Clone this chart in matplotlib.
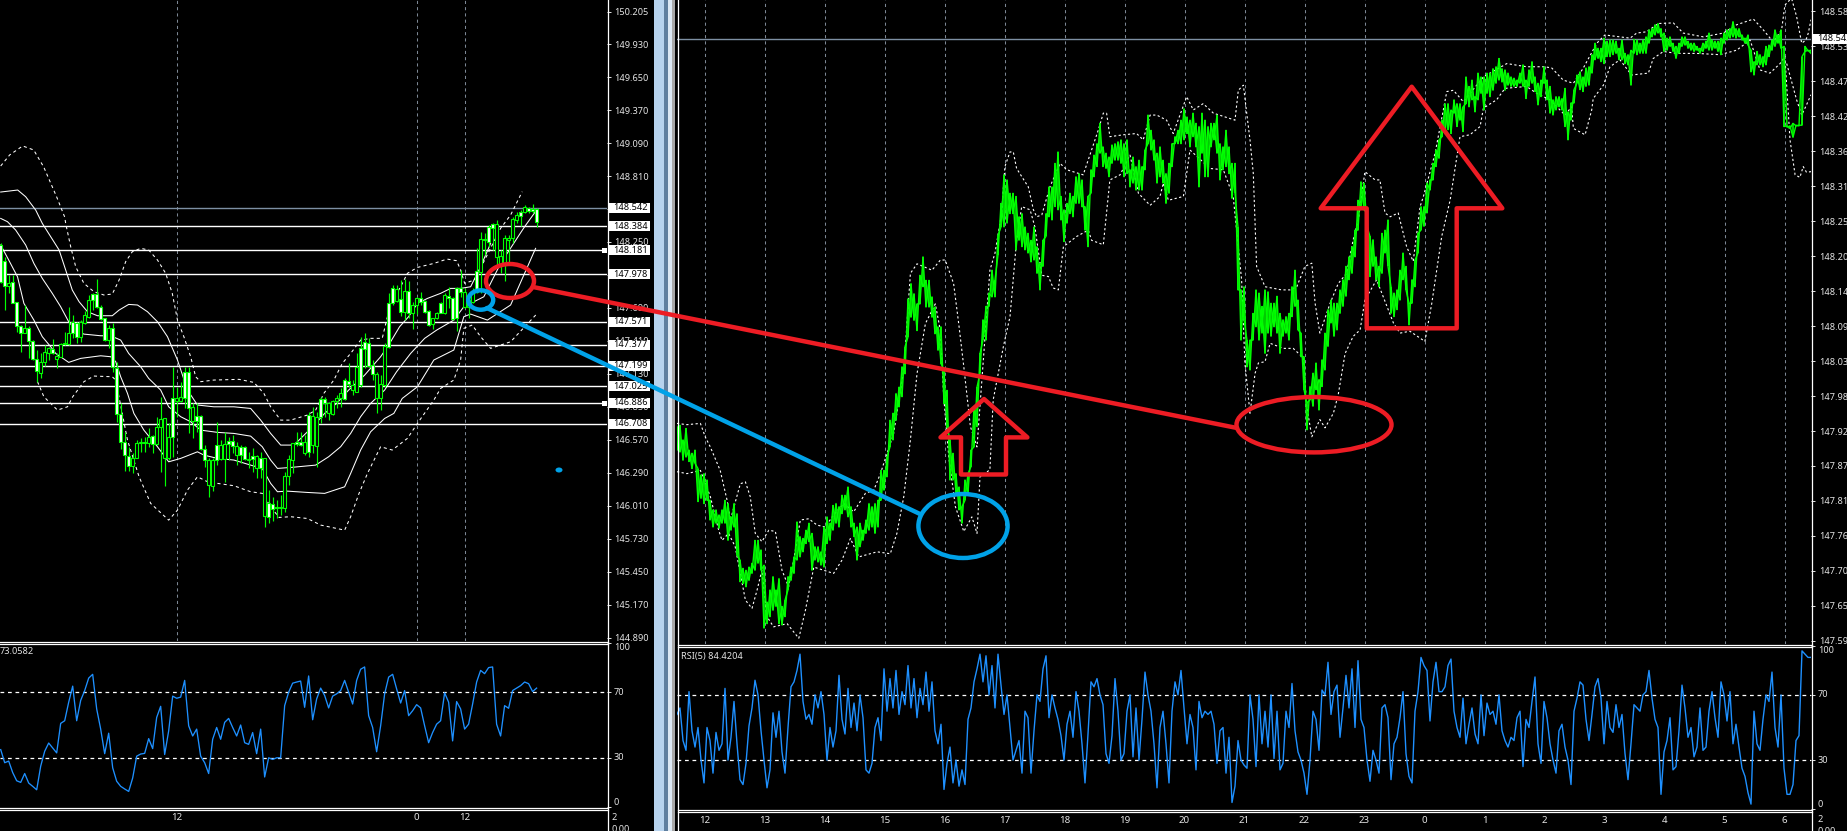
import numpy as np
import matplotlib
matplotlib.use("Agg")
import matplotlib.pyplot as plt
from matplotlib.patches import Ellipse, Polygon, Rectangle
from matplotlib.transforms import blended_transform_factory as blend

plt.rcParams['font.family'] = ['Noto Sans', 'DejaVu Sans']
W, H = 1847, 831

# ---------- left chart (candles, thousandths above 145.000)
L_OPEN_TOP = [3224,3088,2899,2907,2737,2536,2517,2517,2412,2253,2234,2313,2350,2344,2284,2381,2389,2474,2567,2565,2567,2627,2757,2808,2805,2700,2601,2517,2517,2177,1786,1554,1435,1413,1540,1549,1549,1597,1603,1676,1744,1752,1591,1922,1922,1931,2143,2143,1846,1775,1775,1489,1399,1399,1523,1523,1532,1563,1563,1518,1512,1512,1404,1433,1433,1413,1413,1031,1022,1003,1003,1263,1404,1540,1549,1554,1554,1781,1775,1767,1914,1914,1880,1902,1922,1965,2078,2072,2035,2191,2347,2403,2395,2205,2126,2041,2367,2734,2856,2850,2763,2836,2836,2715,2771,2771,2749,2664,2601,2644,2734,2797,2794,2771,2862,2856,2822,2757,2834,3003,3278,3278,3380,3400,3400,3131,3281,3281,3445,3479,3507,3544,3541,3527,3530]
L_OPEN_BOT = [2913,2879,2879,2734,2536,2480,2480,2412,2253,2154,2140,2234,2310,2304,2253,2276,2384,2381,2474,2446,2446,2559,2610,2754,2695,2596,2417,2417,2185,1786,1554,1438,1351,1351,1413,1540,1540,1540,1535,1535,1676,1413,1413,1591,1902,1900,1928,1837,1733,1733,1489,1399,1187,1181,1399,1404,1404,1532,1518,1441,1441,1404,1399,1404,1328,1328,923,918,983,988,994,994,1263,1399,1535,1526,1455,1469,1526,1520,1767,1880,1795,1789,1902,1922,1917,2041,1993,1979,2035,2338,2197,2126,1922,1922,2035,2361,2734,2751,2652,2655,2650,2644,2715,2743,2658,2545,2550,2601,2650,2644,2771,2596,2601,2822,2700,2700,2743,2828,2998,3267,3252,3371,3125,3060,3068,3267,3281,3436,3473,3507,3516,3516,3422]
L_HIGH = [3238,3125,2969,2969,2743,2545,2715,2536,2417,2333,2304,2375,2361,2426,2304,2395,2488,2700,2630,2573,2587,2667,2800,2814,2933,2715,2601,2545,2559,2234,1880,1639,1512,1455,1568,1583,1597,1668,1611,1761,1931,1752,1710,2191,2021,2064,2191,2191,1880,1880,1781,1526,1413,1413,1718,1568,1639,1597,1611,1554,1526,1518,1469,1498,1441,1469,1413,1144,1087,1059,1102,1300,1441,1540,1634,1639,1611,1809,1851,1809,1931,1936,1894,1908,1951,2007,2092,2219,2078,2304,2446,2480,2432,2248,2149,2120,2389,2814,2884,2884,2927,2933,2921,2743,2785,2828,2757,2672,2607,2658,2743,2814,2865,2785,2870,3012,2856,2785,2856,3196,3337,3323,3394,3414,3436,3182,3309,3309,3465,3507,3521,3564,3549,3572,3535]
L_LOW = [2899,2672,2814,2729,2488,2313,2474,2262,2248,2064,2092,2197,2248,2299,2183,2276,2375,2375,2432,2395,2398,2550,2601,2672,2692,2587,2412,2347,2149,1724,1489,1308,1308,1285,1413,1469,1469,1512,1455,1526,1300,1178,1399,1427,1767,1894,1837,1625,1583,1639,1484,1342,1087,1136,1356,1399,1215,1399,1455,1356,1370,1399,1328,1300,1243,1243,833,861,881,903,932,960,1187,1285,1518,1518,1441,1427,1455,1342,1716,1761,1738,1781,1837,1851,1908,2021,1951,1979,2021,2177,2191,2078,1795,1823,2021,2347,2715,2743,2621,2587,2601,2511,2638,2715,2644,2539,2511,2593,2644,2638,2686,2587,2497,2785,2686,2607,2729,2814,2814,3139,3210,3182,3054,2984,2921,3068,3238,3408,3385,3493,3499,3493,3380]
L_BEAR = "WWBWWWBWWWBBBWBBBBWWBBBWWWWBWWWWWBBBWBWBBBBWBBWWBWWWBBWBBWWBWWBWBWBWWWBBBBWWBWBBWWBBBBWWBBWWWWBBBWWBWBWBBWWWBBWBWWWWBBBWBWWWBBBBBBWBW"[:135]

# Bollinger lines: bar number and level (thousandths above 145.000)
LU2_BAR = [0,2.25,5.5,8.25,10.75,14,16,16.25,17.5,18.75,20.8,23.3,25.8,27.9,29.6,31.25,32.9,35,37,39.2,41.25,42.9,44.2,45.8,47.5,48.75,50,53.3,59.6,63.3,65.8,67.5,70,72.5,76.7,78.75,80.8,83.3,85.4,87.5,90,92.5,95.4,97.5,100,101.7,104.2,108.3,111.6,114,115,116,118.4,120.8,125,127.5,130.4]
LU2_VAL = [3895,3989,4065,4031,3887,3632,3462,3408,3210,3040,2899,2828,2800,2808,2927,3083,3167,3196,3182,3097,2984,2814,2587,2446,2276,2106,2064,2078,2084,2058,1965,1851,1738,1738,1781,1823,1965,2078,2219,2304,2417,2432,2432,2729,2870,2984,3034,3068,3105,3091,3012,2899,2927,3083,3366,3479,3677]
LU1_BAR = [0,4.25,6.25,8.75,10.4,12.5,14.6,16.25,17.9,19.6,21.7,24.2,27.9,29.6,32,34.2,36.7,39.2,41.7,44.2,46.7,49.2,53.3,58.3,62.5,65,67.5,70,72.5,73.75,78.4,81,84,87,91,95,97,99.75,102,104.2,106.7,110,112.5,115,117.5,120,122.5]
LU1_VAL = [3674,3691,3634,3521,3408,3295,3182,3012,2842,2743,2658,2624,2624,2672,2720,2715,2658,2573,2446,2248,1993,1866,1851,1851,1837,1738,1625,1526,1526,1540,1696,1795,1880,1993,2120,2276,2375,2531,2616,2729,2771,2814,2856,2856,2870,3040,3238]
LM_BAR = [0,1.7,3.75,6.25,8.3,10.4,12.9,15,17,18.75,20.8,25,27.5,30,32,35,37,40,42,45,47.5,50,54.2,58.3,62.5,65.4,67.5,69.2,72.5,78.75,82,85,87.5,90,92.5,96,99,102.5,106,109,113.3,115.8,120.8,125,131,134]
LM_VAL = [3450,3422,3351,3224,3068,2941,2814,2700,2573,2502,2468,2454,2454,2417,2304,2191,2092,1993,1851,1767,1724,1653,1634,1625,1602,1512,1399,1328,1336,1356,1427,1512,1625,1767,1880,1993,2149,2304,2432,2502,2587,2700,2785,3068,3380,3521]
LL1_BAR = [0,2,4.2,5.8,8.3,10.4,12.5,13.75,17,20,25,27.5,28.75,30,31.7,33.3,35.8,39.2,42,45,49.2,50.8,54.2,58.3,62.5,65.4,67.5,69.2,71.7,76.7,81,86,87.5,90,92.5,96,98.3,100.4,104.2,108.3,113.3,115.8,117.5,121.7,127.5,133.75]
LL1_VAL = [3224,3097,2955,2729,2587,2446,2361,2304,2228,2262,2284,2276,2234,2106,1965,1795,1653,1512,1384,1413,1469,1441,1413,1399,1356,1328,1201,1130,1135,1124,1116,1172,1285,1484,1639,1752,1795,1922,2021,2248,2333,2616,2638,2587,2715,3196]
LL2_BAR = [9.2,10.8,14.2,16.7,18,20.8,23.3,27.9,28.75,31.7,34.6,37.5,42,44.2,46.7,49.2,51.7,54.2,58.3,62.5,65.4,67.5,69.6,72.5,76.7,80,86,87.5,89.6,91.7,95,97.9,101.7,104.2,108.3,110,113.3,115,115.8,117.9,120,122.5,127.5,134]
LL2_VAL = [2064,1936,1823,1851,1936,2064,2112,2106,2078,1569,1257,1031,889,974,1144,1257,1215,1201,1181,1130,1116,1003,912,918,903,847,804,918,1116,1285,1512,1484,1583,1710,1908,2007,2078,2248,2517,2545,2446,2347,2403,2638]

L_RSI = [35,27,28,21,16,15,20.4,14.6,12.6,10.5,24.9,34,39,36,33,51,52.6,63.9,73.7,52.6,65,71,78.6,80.9,59.8,47.5,32.5,45,23.9,15.7,12.6,11,9.5,17.7,31,32.3,32.7,41.7,35.6,54.6,61.4,32,46.4,67.6,66.3,67,77.2,49.5,43.3,47.5,31,27,20.4,41.3,48.5,41.3,51.6,54,48.5,43.3,50,39.2,38.2,45.4,32.5,47.5,18.3,30,29,30,30,61.8,70,75.5,76.2,76.8,60.8,79.9,53.2,65.9,72.5,68,60.4,67.6,69,71,77.2,70,62.8,77.2,84,85.4,55.7,48.5,33.7,49.5,69,79.2,80.9,72,63.4,71,55.7,58.7,62.4,60.4,49.5,39.2,45.4,50.5,52.6,69.6,63.9,40.3,64.3,59.8,47.5,50.5,62.8,76.2,83.3,81.3,85,85.4,50.5,43.3,61.8,60.2,71,72.5,74,76.2,75.2,70.4,72.5]

L_TICKS = [150.205,149.93,149.65,149.37,149.09,148.81,148.53,148.25,147.97,147.69,147.41,147.13,146.85,146.57,146.29,146.01,145.73,145.45,145.17,144.89]
L_LEVELS = [148.384,148.181,147.978,147.571,147.377,147.199,147.025,146.886,146.708]
LAST_PRICE = 148.542
L_TIME_BARS = [44,104,116]
L_TIME_LABELS = ["12","0","12"]

# ---------- right chart (bar highs and lows, thousandths above 147.000)
R_HIGH = [932,934,911,929,895,890,895,866,856,858,848,816,801,801,793,801,816,811,790,811,795,722,709,706,711,717,753,753,738,714,656,675,696,675,693,649,659,696,711,727,782,759,756,769,780,764,743,743,735,774,790,780,808,811,806,824,824,837,806,780,774,780,769,785,811,806,811,816,863,863,884,942,953,984,994,1026,1057,1133,1157,1141,1125,1170,1199,1162,1162,1136,1120,1089,1089,1021,989,911,890,858,837,806,848,858,895,963,994,
1047,1100,1121,1142,1178,1163,1233,1283,1328,1320,1299,1299,1294,1262,1267,1246,1236,1225,1246,1215,1189,1225,1267,1309,1309,1346,1364,1294,1273,1283,1299,1294,1325,1330,1320,1278,1294,1336,1359,1377,1409,1372,1362,1356,1375,1377,1380,1383,1377,1383,1336,1356,1341,1351,1341,1367,1422,1398,1383,1362,1372,1351,1330,1346,1377,1388,1398,1414,1432,1419,1414,1425,1409,1404,1425,1414,1404,1409,1409,1422,1377,1372,1398,1372,1346,1346,1246,1147,1152,1068,1068,1110,1147,1142,
1121,1147,1144,1126,1126,1137,1110,1100,1105,1110,1152,1178,1131,1079,1042,969,995,1016,1032,1006,1037,1079,1116,1131,1126,1126,1147,1163,1184,1199,1215,1241,1288,1317,1315,1268,1231,1226,1199,1184,1236,1241,1257,1152,1142,1147,1178,1205,1184,1126,1163,1194,1236,1278,1278,1315,1320,1346,1367,1383,1414,1440,1440,1430,1446,1440,1440,1435,1482,1467,1477,1451,1488,1482,1482,1488,1488,1495,1498,1511,1495,1493,1488,1482,1480,1477,1488,1501,1477,1493,1506,1482,1472,1477,1498,1477,
1467,1446,1451,1451,1448,1464,1427,1441,1462,1485,1490,1482,1496,1498,1517,1535,1527,1527,1543,1538,1540,1540,1538,1527,1540,1519,1517,1524,1541,1540,1535,1540,1545,1556,1558,1564,1566,1558,1551,1543,1545,1535,1530,1535,1545,1545,1538,1535,1535,1530,1527,1535,1538,1551,1540,1538,1538,1543,1551,1556,1558,1569,1558,1558,1548,1543,1548,1524,1506,1522,1517,1514,1530,1532,1540,1556,1548,1556,1530,1405,1405,1409,1406,1406,1514,1530,1524,1524]
R_LOW = [895,892,879,884,877,866,874,814,819,811,816,785,774,780,772,780,780,753,769,774,730,688,685,680,690,701,706,717,706,615,622,633,643,649,622,620,633,675,690,701,722,727,735,748,751,706,722,719,714,711,748,753,769,780,774,795,801,790,774,759,722,743,753,764,769,774,764,774,816,832,853,900,911,942,963,979,1015,1073,1104,1099,1083,1125,1152,1120,1120,1104,1078,1052,1031,968,932,848,848,827,801,780,816,827,869,900,932,
1016,1068,1068,1121,1136,1136,1202,1246,1246,1252,1267,1267,1210,1225,1215,1210,1205,1191,1194,1173,1147,1184,1231,1262,1257,1278,1273,1257,1223,1252,1267,1262,1283,1283,1278,1241,1215,1299,1325,1341,1362,1341,1338,1325,1346,1351,1351,1346,1325,1330,1309,1315,1304,1304,1304,1336,1377,1367,1351,1315,1325,1315,1283,1299,1341,1377,1377,1377,1383,1393,1372,1388,1372,1309,1362,1325,1325,1372,1383,1362,1320,1336,1341,1330,1291,1299,1147,1068,1100,1026,1021,1068,1089,1068,
1079,1047,1079,1074,1089,1079,1047,1074,1079,1068,1105,1121,1084,1042,990,927,974,964,990,958,995,1021,1058,1095,1074,1084,1110,1121,1137,1163,1173,1199,1241,1278,1273,1247,1168,1184,1163,1152,1173,1205,1184,1110,1105,1116,1131,1163,1147,1092,1126,1152,1205,1241,1247,1268,1304,1320,1341,1354,1388,1393,1399,1393,1425,1404,1414,1396,1440,1435,1446,1427,1446,1456,1430,1456,1451,1461,1472,1477,1474,1461,1469,1467,1467,1467,1472,1467,1448,1467,1472,1459,1438,1451,1472,1446,
1425,1422,1430,1435,1430,1404,1383,1414,1441,1472,1462,1459,1467,1469,1488,1509,1511,1506,1503,1514,1514,1517,1519,1509,1509,1503,1501,1469,1519,1517,1519,1519,1519,1535,1545,1548,1551,1545,1522,1524,1530,1522,1511,1519,1530,1532,1527,1524,1522,1524,1519,1522,1527,1524,1524,1527,1522,1517,1535,1540,1543,1545,1543,1545,1540,1535,1532,1490,1485,1501,1501,1498,1501,1514,1524,1530,1535,1527,1404,1403,1401,1387,1405,1405,1406,1522,1523,1519]

RU_BAR = [0,3.3,7.8,9.4,11.1,14.4,16.7,17.8,21.1,22.8,24.4,26.1,28.3,30.6,32.8,35,37.2,38.9,41.1,43.9,46.7,49.4,52.2,55.6,58.9,62.8,65.6,67.8,72.2,75.6,77.8,80,85,87.8,89.4,92.2,93.9,95.6,97.8,100,104.3,106,108.2,109.3,111,112.1,113.2,117.1,118.8,119.9,121.6,124.3,127.7,129.9,135.4,140.4,142.1,143.2,144.3,148.8,153.2,155.4,157.7,159.9,163.2,165.4,169.9,172.1,175.4,178.8,186,187.1,188.8,189.9,191,192.1,193.2,196,201.6,204.3,206.6,209.3,211.6,212.7,214.3,217.7,220.4,223.2,225.4,227.1,229.3,232.7,234.3,236,237.7,240.4,243.2,245.4,247.7,248.8,252.7,256.6,258.8,262.1,268.8,276.6,283.2,289.3,291.6,295.4,298.8,302.1,306.6,309.3,317.7,319.9,323.2,327.1,332.1,335.4,342.1,348.8,353.2,358.8,362.1,365.4,368.2,369.3,371.5,373.2,374.9,376.3,377.1,378]
RU_VAL = [937,935,937,916,900,863,816,785,842,845,822,764,751,769,767,706,680,722,785,787,777,774,793,811,798,827,832,858,921,1021,1173,1188,1178,1194,1194,1157,1094,1026,932,900,1178,1205,1267,1341,1364,1364,1338,1309,1273,1262,1265,1309,1346,1336,1328,1398,1425,1425,1388,1391,1393,1383,1422,1422,1414,1393,1451,1430,1440,1425,1414,1461,1469,1425,1383,1330,1184,1152,1147,1147,1152,1184,1189,1126,1079,1126,1157,1173,1226,1257,1333,1320,1320,1268,1262,1268,1215,1192,1278,1294,1362,1459,1461,1443,1482,1503,1498,1498,1496,1477,1472,1496,1535,1548,1543,1551,1553,1566,1567,1551,1545,1551,1564,1573,1556,1537,1556,1595,1606,1577,1535,1540,1551,1572]
RD_BAR = [0,3.3,7.8,11.1,13.9,15,17.2,19.4,22.8,25,26.7,28.3,30,32.2,36.7,40.6,42.8,45.6,48.9,52.2,55,57.8,60.6,66.7,71.1,73.3,75.6,77.8,80,82.8,86.1,87.8,88.9,90.6,92.8,95.6,98.3,100,101,104.3,105.4,108.8,111,113.2,114.9,117.7,119.3,121.6,123.8,125.4,127.1,128.8,133.2,137.1,138.2,142.1,144.3,147.7,151,153.8,157.7,161,162.1,163.8,168.8,171,177.7,182.1,185.4,188.2,189.3,191,192.7,193.8,196,197.7,202.1,205.4,208.8,209.9,211.6,214.3,216,218.8,220.4,222.7,225.4,227.7,229.3,233.2,238.8,241,244.3,249.3,251.6,254.9,257.7,261,264.3,267.7,268.8,273.2,276,283.2,286.6,291,296,298.2,298.8,302.7,304.9,305.4,308.8,311,314.3,318.2,323.8,325.4,328.8,333.2,339.9,347.7,353.2,357.7,361,364.3,367.7,369.3,371,372.7,374.3,375.4,376.5,378]
RD_VAL = [861,858,863,822,769,753,764,743,659,646,675,706,633,617,622,599,643,711,706,701,722,756,727,735,732,764,822,911,1015,1094,1125,1083,979,884,806,767,790,764,853,864,974,1058,1105,1225,1278,1273,1246,1170,1168,1150,1147,1215,1231,1241,1225,1218,1320,1328,1359,1299,1280,1294,1315,1288,1294,1367,1338,1336,1294,1163,1032,953,1016,1032,1034,1063,1055,1055,1040,964,916,943,930,953,982,1047,1074,1084,1131,1163,1095,1079,1082,1066,1126,1231,1288,1388,1391,1404,1433,1446,1464,1467,1456,1446,1422,1435,1401,1391,1430,1448,1469,1498,1509,1485,1488,1511,1522,1519,1519,1517,1524,1540,1493,1488,1503,1514,1383,1328,1324,1341,1332,1333]
RE_BAR = [369.9,373.2,374.9,376.5,378]
RE_VAL = [1503,1446,1422,1438,1454]

R_RSI = [58,62,42,36,72,48,38,50,30,
16,50,42,22,47,36,40,74,30,44,66,40,18,15,28,51,62,79,70,48,
30,13,24,59,44,60,35,22,50,75,78,85,95,66,55,58,52,70,62,72,
58,30,50,38,48,82,55,46,74,50,65,48,70,56,24,22,28,50,56,42,
86,60,80,62,85,58,72,64,88,62,80,56,74,64,84,60,78,48,40,52,
12,28,38,16,30,14,24,15,55,62,78,86,95,78,94,70,88,62,95,76,
58,70,50,30,36,42,22,60,56,22,48,70,66,86,94,56,70,62,55,45,
30,52,60,44,72,60,40,16,46,78,75,80,70,64,34,28,45,80,60,30,
34,60,70,32,62,30,55,84,70,60,40,13,50,60,40,16,60,78,70,85,
62,40,58,50,24,66,56,60,58,60,52,28,48,50,22,44,4,14,42,30,
27,25,70,55,26,70,40,60,38,70,31,60,24,28,60,50,77,48,35,30,
22,9,30,60,55,36,73,70,90,58,72,76,44,62,82,62,86,50,91,55,
50,30,17,36,30,22,62,64,56,18,40,44,56,72,34,20,16,60,72,93,
88,85,54,78,90,72,72,75,88,92,60,50,44,68,40,52,62,46,40,70,
45,65,58,60,52,70,48,42,38,44,42,56,60,26,55,50,66,81,40,28,
66,56,40,30,22,48,52,38,30,15,60,68,78,76,55,42,58,75,80,68,
40,66,50,47,64,50,58,34,18,40,64,62,60,70,72,85,68,55,50,9,
35,42,56,24,26,48,76,62,44,50,32,38,62,36,38,60,72,56,44,78,
70,54,72,40,52,38,25,20,10,3,60,40,36,55,70,66,84,50,38,70,
25,9,9,15,42,45,97,95,93,93]

R_TICKS = [148.585,148.53,148.475,148.42,148.365,148.31,148.255,148.2,148.145,148.09,148.035,147.98,147.925,147.87,147.815,147.76,147.705,147.65,147.595]
R_HOURS = ["12","13","14","15","16","17","18","19","20","21","22","23","0","1","2","3","4","5","6"]
RSI_LEVELS = [30,70]

GREEN = "#00FF00"; BLUE = "#1E90FF"; GRID = "#7C8794"; LAST = "#7D8FA3"; TXT = "#E4E4E4"
FS = 6.6

fig = plt.figure(figsize=(W/100, H/100), dpi=100, facecolor="black")

def ax_px(x0, y0, x1, y1):
    ax = fig.add_axes([x0/W, 1-y1/H, (x1-x0)/W, (y1-y0)/H], facecolor="black")
    for s in ax.spines.values():
        s.set_visible(False)
    return ax

def style_right(ax, ticks, labels=None):
    ax.yaxis.tick_right()
    ax.set_yticks(ticks)
    if labels is not None:
        ax.set_yticklabels(labels)
    ax.tick_params(axis="y", colors=TXT, labelsize=FS, length=3, width=0.7, pad=2)

def boxed(ax, price, width_px):
    tr = blend(ax.transAxes, ax.transData)
    axw = ax.get_window_extent().width
    y0, y1 = ax.get_ylim()
    h = (y1-y0)/ax.get_window_extent().height*10
    ax.add_patch(Rectangle((1+2/axw, price-h/2), width_px/axw, h, transform=tr, fc="white", ec="none", clip_on=False, zorder=6))
    ax.text(1+6/axw, price, f"{price:.3f}", transform=tr, color="black", fontsize=FS, va="center", ha="left", zorder=7, clip_on=False)

# ----- left main
axL = ax_px(0, 0, 607, 641)
axL.set_xlim(-0.175, 151.6); axL.set_ylim(144.863, 150.304)
for b in L_TIME_BARS:
    axL.axvline(b, color=GRID, lw=0.75, ls=(0, (3, 3)), zorder=1)
for lv in L_LEVELS:
    axL.axhline(lv, color="white", lw=1.0, zorder=1.5)
axL.axhline(LAST_PRICE, color=LAST, lw=1.0, zorder=1.5)
for bx, bv, ls in [(LU2_BAR, LU2_VAL, (0,(3,3))), (LU1_BAR, LU1_VAL, "-"), (LM_BAR, LM_VAL, "-"), (LL1_BAR, LL1_VAL, "-"), (LL2_BAR, LL2_VAL, (0,(3,3)))]:
    axL.plot(bx, 145+np.array(bv)/1000, color="white", lw=0.75, ls=ls, zorder=2)
idx = np.arange(len(L_HIGH))
top = 145+np.array(L_OPEN_TOP)/1000; bot = 145+np.array(L_OPEN_BOT)/1000
axL.vlines(idx, 145+np.array(L_LOW)/1000, 145+np.array(L_HIGH)/1000, color=GREEN, lw=0.85, zorder=3)
fills = ["white" if c == "W" else "black" for c in L_BEAR]
axL.bar(idx, top-bot, bottom=bot, width=0.62, color=fills, edgecolor=GREEN, linewidth=0.8, zorder=4)
axL.set_xticks([])
style_right(axL, L_TICKS, [f"{t:.3f}" for t in L_TICKS])
for p in [LAST_PRICE]+L_LEVELS:
    boxed(axL, p, 41)

# ----- left rsi
axLR = ax_px(0, 643, 607, 807)
axLR.set_xlim(-0.175, 151.6); axLR.set_ylim(0, 100)
for lv in RSI_LEVELS:
    axLR.axhline(lv, color="white", lw=0.9, ls=(0, (3, 3)))
axLR.plot(np.arange(len(L_RSI)), L_RSI, color=BLUE, lw=0.95)
axLR.set_xticks(L_TIME_BARS); axLR.set_xticklabels(L_TIME_LABELS)
axLR.tick_params(axis="x", colors=TXT, labelsize=FS+0.4, length=0, pad=4)
style_right(axLR, [100,70,30,0], ["100","70","30","0"])
for t, va in zip(axLR.yaxis.get_major_ticks(), ["top","center","center","bottom"]):
    t.label2.set_va(va)

# ----- right main
axR = ax_px(677, 0, 1811, 644)
axR.set_xlim(0, 378); axR.set_ylim(147.590, 148.603)
hour_bars = [9.17+20*k for k in range(len(R_HOURS))]
for b in hour_bars:
    axR.axvline(b, color=GRID, lw=0.75, ls=(0, (3, 3)), zorder=1)
axR.axhline(LAST_PRICE, color=LAST, lw=1.0, zorder=1.5)
for bx, bv in [(RU_BAR, RU_VAL), (RD_BAR, RD_VAL), (RE_BAR, RE_VAL)]:
    axR.plot(bx, 147+np.array(bv)/1000, color="white", lw=0.8, ls=(0, (2, 2.2)), zorder=2)
r_hi = 147+np.array(R_HIGH)/1000; r_lo = 147+np.array(R_LOW)/1000; r_x = np.arange(len(R_HIGH))
axR.vlines(r_x, r_lo, r_hi, color=GREEN, lw=1.15, zorder=3)
# each bar's high and low joined alternately, so the thin bars read as one jagged trace
axR.plot(r_x, np.where(r_x % 2 == 0, r_hi, r_lo), color=GREEN, lw=1.0, zorder=3)
axR.plot(r_x, np.where(r_x % 2 == 0, r_lo, r_hi), color=GREEN, lw=1.0, zorder=3)
axR.set_xticks([])
style_right(axR, R_TICKS, [f"{t:.3f}" for t in R_TICKS])
axR.tick_params(axis="y", pad=3)
boxed(axR, LAST_PRICE, 41)

# ----- right rsi
axRR = ax_px(677, 646, 1811, 809)
axRR.set_xlim(0, 378); axRR.set_ylim(0, 100)
for lv in RSI_LEVELS:
    axRR.axhline(lv, color="white", lw=0.9, ls=(0, (3, 3)))
axRR.plot(np.arange(len(R_RSI)), R_RSI, color=BLUE, lw=1.0)
axRR.set_xticks(hour_bars); axRR.set_xticklabels(R_HOURS)
axRR.tick_params(axis="x", colors=TXT, labelsize=FS+0.4, length=0, pad=5)
style_right(axRR, [100,70,30,0], ["100","70","30","0"])
for t, va in zip(axRR.yaxis.get_major_ticks(), ["top","center","center","bottom"]):
    t.label2.set_va(va)

# ----- overlay: window frame, annotations drawn on top of the chart picture
ov = fig.add_axes([0, 0, 1, 1], facecolor="none")
ov.set_xlim(0, W); ov.set_ylim(H, 0); ov.axis("off")

for x0, x1, c in [(654, 664, "#B7D3EE"), (664, 668, "#5F7F9F"), (668, 672, "#DCE8F4"), (672, 675, "#A8A8A8")]:
    ov.add_patch(Rectangle((x0, 0), x1-x0, H, fc=c, ec="none"))
for x in (607.5, 677.5, 1811.5):
    ov.plot([x, x], [0, H], color="white", lw=0.9)
for y in (641.5, 643.5, 807.5, 809.5):
    ov.plot([0, 607.5], [y, y], color="white", lw=0.9)
for y in (644.5, 646.5, 809.5, 811.5):
    ov.plot([677.5, 1811.5], [y, y], color="white", lw=0.9)
for y in (250, 403):
    ov.add_patch(Rectangle((602, y-2.5), 5, 5, fc="white", ec="none"))

ov.text(0, 652, "73.0582", color=TXT, fontsize=FS, va="center", ha="left")
ov.text(681, 656, "RSI(5) 84.4204", color=TXT, fontsize=FS, va="center", ha="left")
ov.text(612, 817, "2", color=TXT, fontsize=FS, va="center")
ov.text(612, 829, "0.00", color=TXT, fontsize=FS, va="center", clip_on=True)
ov.text(1817, 819, "2", color=TXT, fontsize=FS, va="center")
ov.text(1817, 831, "0.00", color=TXT, fontsize=FS, va="center", clip_on=True)

RED = "#ED1C24"; CYAN = "#00A2E8"; LW = 3.2
ov.plot([533, 1237], [287, 428], color=RED, lw=LW, solid_capstyle="round")
ov.plot([487, 920], [308, 514], color=CYAN, lw=LW, solid_capstyle="round")
for cx, cy, rx, ry, c in [(510, 281, 24, 17, RED), (480.7, 300, 12.5, 9.7, CYAN), (963, 526, 44.6, 32, CYAN), (1314, 424.7, 77.5, 27.7, RED)]:
    ov.add_patch(Ellipse((cx, cy), 2*rx, 2*ry, fc="none", ec=c, lw=LW))
ov.add_patch(Polygon([(1411.7,86.7),(1320.7,208.3),(1366.7,208.3),(1366.7,328.3),(1456.7,328.3),(1456.7,208.3),(1502.3,208.3)], closed=True, fc="none", ec=RED, lw=LW, joinstyle="round"))
ov.add_patch(Polygon([(984,399),(940.5,437.4),(961,437.4),(961,474.5),(1006,474.5),(1006,437.4),(1027.4,437.4)], closed=True, fc="none", ec=RED, lw=LW, joinstyle="round"))
ov.add_patch(Ellipse((559, 470), 7, 5, fc=CYAN, ec="none"))

fig.savefig("out.png", dpi=100, facecolor="black")
